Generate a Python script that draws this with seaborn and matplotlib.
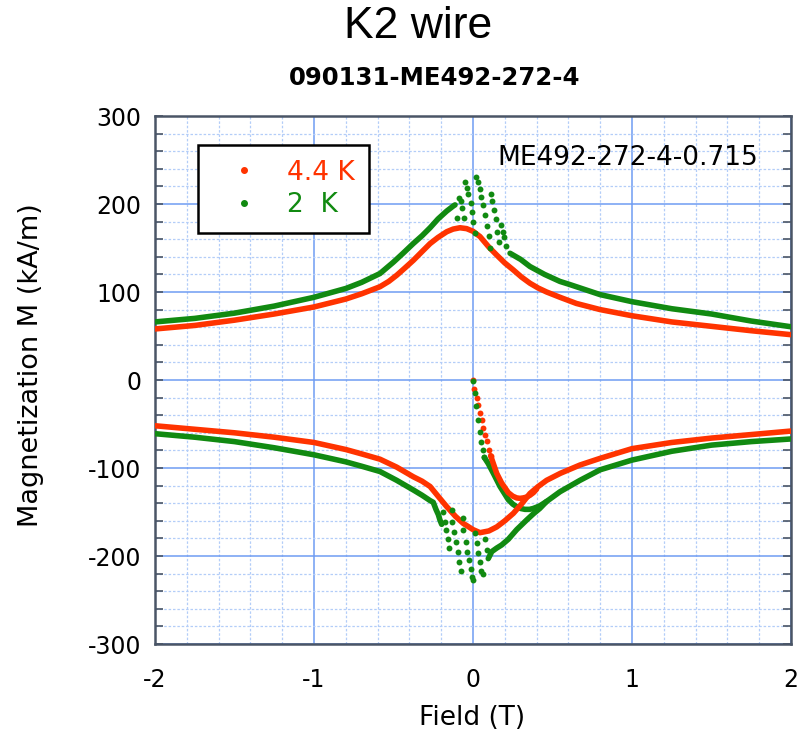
import numpy as np
import pandas as pd
import matplotlib
matplotlib.use("Agg")
import matplotlib.pyplot as plt
from matplotlib.lines import Line2D
from matplotlib.ticker import MultipleLocator
import seaborn as sns

# ---------------- data ----------------
# 4.4 K, upper branch (field sweeping down)
red_up_x = [2.0, 1.75, 1.5, 1.25, 1.0, 0.8, 0.65, 0.547, 0.463, 0.41, 0.358, 0.305, 0.254, 0.2,
            0.149, 0.1, 0.044, 0.0, -0.04, -0.082, -0.125, -0.165, -0.22, -0.27, -0.32, -0.375,
            -0.43, -0.48, -0.53, -0.585, -0.7, -0.8, -1.0, -1.25, -1.5, -1.75, -2.0]
red_up_m = [51.5, 56, 61, 66, 73, 80, 87, 94, 100, 104.5, 110, 117, 125, 133,
            142, 151, 163, 169, 172, 173, 171.5, 168.5, 162, 155, 146, 136,
            127, 119, 112, 106, 98, 92, 83, 75, 68, 62, 58]
# 4.4 K, lower branch (field sweeping up)
red_lo_x = [-2.0, -1.75, -1.5, -1.25, -1.0, -0.8, -0.7, -0.585, -0.48, -0.375, -0.32, -0.27,
            -0.22, -0.165, -0.11, -0.061, 0.0, 0.044, 0.1, 0.149, 0.2, 0.254, 0.305, 0.358,
            0.41, 0.463, 0.55, 0.673, 0.8, 1.0, 1.25, 1.5, 1.75, 2.0]
red_lo_m = [-52, -56, -60, -65, -71, -79, -84, -90, -99, -110, -115, -121,
            -132, -144, -155, -163, -170, -173.5, -171.5, -167, -160, -151.5, -141, -129,
            -121, -114, -106, -96.6, -89, -78, -71, -66, -62, -58]
# 4.4 K, virgin curve
red_vir_dots_x = [0.0, 0.008, 0.023, 0.033, 0.044, 0.057, 0.065, 0.077, 0.086, 0.099, 0.111]
red_vir_dots_m = [0, -10, -20, -28, -38, -46, -54, -62, -69, -80, -86]
red_vir_x = [0.111, 0.128, 0.149, 0.18, 0.222, 0.25, 0.275, 0.296, 0.316, 0.338, 0.358, 0.38, 0.40]
red_vir_m = [-86, -95, -106, -117, -128, -132, -134, -134.5, -134, -133, -131, -128, -124]

# 2 K, upper branch (continuous parts)
grn_up_r_x = [2.0, 1.75, 1.5, 1.25, 1.0, 0.8, 0.7, 0.6, 0.547, 0.45, 0.358, 0.3, 0.233]
grn_up_r_m = [60.5, 67, 75, 81, 89, 97, 103, 109, 112, 120, 129, 137, 144]
grn_up_l_x = [-0.113, -0.124, -0.165, -0.22, -0.27, -0.32, -0.376, -0.44, -0.5, -0.585, -0.7,
              -0.8, -1.0, -1.25, -1.5, -1.75, -2.0]
grn_up_l_m = [199, 197.7, 192, 183, 173, 164, 155, 144, 134, 121, 111,
              104, 94, 84, 76, 70, 66]
# 2 K, upper branch flux-jump points
grn_up_jump_x = [-0.086, -0.077, -0.067, -0.099, -0.057,
                 -0.050, -0.040, -0.030, -0.015, -0.006, 0.002, 0.013,
                 0.019, 0.030, 0.044, 0.050, 0.063, 0.074, 0.086, 0.099, 0.107,
                 0.111, 0.121, 0.132, 0.145, 0.153, 0.165, 0.176, 0.187, 0.195, 0.21]
grn_up_jump_m = [206.4, 203.4, 195.8, 183.7, 184.4,
                 224.6, 218.6, 211, 201.5, 191.3, 179.2, 167.4,
                 231, 225.4, 216.7, 208.3, 198.9, 187.5, 175.4, 163.3, 149.6,
                 211, 203.4, 193.2, 182.6, 168.5, 156.4, 176, 168.5, 162.9, 152]
# 2 K, lower branch (continuous parts)
grn_lo_l_x = [-2.0, -1.75, -1.5, -1.25, -1.0, -0.8, -0.7, -0.585, -0.48, -0.375, -0.32, -0.27,
              -0.25, -0.233, -0.218, -0.208, -0.197]
grn_lo_l_m = [-61, -65, -70, -77, -85, -93, -98, -104, -114, -125, -131, -137,
              -139, -147, -153, -159, -164]
grn_lo_r_x = [0.096, 0.118, 0.149, 0.18, 0.222, 0.275, 0.338, 0.38, 0.42, 0.463, 0.547, 0.673,
              0.8, 1.0, 1.25, 1.5, 1.75, 2.0]
grn_lo_r_m = [-203, -195, -191, -187.5, -181, -170, -159, -152, -146, -138, -127, -114,
              -102, -91, -81, -74, -70, -67]
# 2 K, lower branch flux-jump points
grn_lo_jump_x = [-0.191, -0.176, -0.170, -0.155, -0.149,
                 -0.134, -0.130, -0.118, -0.107, -0.096, -0.086, -0.077,
                 -0.065, -0.061, -0.046, -0.036, -0.025, -0.014, -0.008, 0.002,
                 0.013, 0.023, 0.033, 0.044, 0.053, 0.061,
                 0.075, 0.086]
grn_lo_jump_m = [-149.6, -161, -170.5, -181, -191,
                 -148, -161, -173, -184.5, -196, -207, -217,
                 -157, -171, -184, -196, -205, -215, -223.5, -227,
                 -173.5, -185.6, -197, -207, -216.7, -220,
                 -181, -193]
# 2 K, virgin curve
grn_vir_dots_x = [0.002, 0.013, 0.019, 0.033, 0.044, 0.050, 0.061, 0.071]
grn_vir_dots_m = [-1, -15, -30, -45.5, -59, -71, -80, -88]
grn_vir_x = [0.071, 0.096, 0.128, 0.17, 0.222, 0.25, 0.275, 0.3, 0.327, 0.355, 0.379, 0.42, 0.463]
grn_vir_m = [-88, -95, -106, -121, -136, -141, -144, -146, -147, -147, -146, -143, -138]

series_labels = ["4.4 K", "2  K"]
x_ticks = [-2, -1, 0, 1, 2]
y_ticks = [-300, -200, -100, 0, 100, 200, 300]

RED = "#ff3300"
GREEN = "#118a11"

# ---------------- figure ----------------
sns.set_theme(style="white")
plt.rcParams["font.family"] = ["DejaVu Sans"]
plt.rcParams["axes.unicode_minus"] = False
plt.rcParams["text.color"] = "black"
plt.rcParams["axes.labelcolor"] = "black"
plt.rcParams["xtick.color"] = "black"
plt.rcParams["ytick.color"] = "black"

fig = plt.figure(figsize=(7.99, 7.36), dpi=100)
ax = fig.add_axes([155 / 799, 1 - 644 / 736, 636 / 799, 528 / 736])

LW = 4.0
S = 18


def line(xs, ms, color):
    df = pd.DataFrame({"x": xs, "m": ms})
    sns.lineplot(data=df, x="x", y="m", sort=False, estimator=None, color=color,
                 linewidth=LW, ax=ax, zorder=3, solid_capstyle="round",
                 solid_joinstyle="round")


def dots(xs, ms, color):
    df = pd.DataFrame({"x": xs, "m": ms})
    sns.scatterplot(data=df, x="x", y="m", color=color, s=S, linewidth=0, ax=ax, zorder=4)


line(grn_up_r_x, grn_up_r_m, GREEN)
line(grn_up_l_x, grn_up_l_m, GREEN)
line(grn_lo_l_x, grn_lo_l_m, GREEN)
line(grn_lo_r_x, grn_lo_r_m, GREEN)
line(grn_vir_x, grn_vir_m, GREEN)

line(red_up_x, red_up_m, RED)
line(red_lo_x, red_lo_m, RED)
line(red_vir_x, red_vir_m, RED)
dots(red_vir_dots_x, red_vir_dots_m, RED)

dots(grn_up_jump_x, grn_up_jump_m, GREEN)
dots(grn_lo_jump_x, grn_lo_jump_m, GREEN)
dots(grn_vir_dots_x, grn_vir_dots_m, GREEN)

ax.set_xlim(-2, 2)
ax.set_ylim(-300, 300)
ax.set_xticks(x_ticks)
ax.set_yticks(y_ticks)
ax.set_xticklabels([str(v) for v in x_ticks])
ax.set_yticklabels([str(v) for v in y_ticks])
ax.xaxis.set_minor_locator(MultipleLocator(0.2))
ax.yaxis.set_minor_locator(MultipleLocator(20))

ax.grid(which="major", color="#6f9cf2", linewidth=1.1, linestyle="-", zorder=0)
ax.grid(which="minor", color="#b3cdf8", linewidth=0.9, linestyle=(0, (2, 1.5)), zorder=0)
ax.set_axisbelow(True)

for sp in ax.spines.values():
    sp.set_color("#4a5566")
    sp.set_linewidth(1.8)

ax.tick_params(axis="y", which="both", direction="in", left=True, right=True,
               length=6, width=1.2, color="#4a5566", labelsize=17, pad=10,
               labelcolor="black")
ax.tick_params(axis="x", which="both", bottom=False, top=False, labelsize=17, pad=11,
               labelcolor="black")

ax.set_xlabel("Field (T)", fontsize=19, color="black")
ax.set_ylabel("Magnetization M (kA/m)", fontsize=19.5, color="black")
ax.xaxis.set_label_coords((472 - 155) / 636, (644 - 705) / 528)
ax.yaxis.set_label_coords((44 - 155) / 636, (644 - 365) / 528)

ax.text(0.151, 252, "ME492-272-4-0.715", fontsize=19, color="black",
        ha="left", va="center", zorder=6)

handles = [Line2D([0], [0], marker="o", linestyle="none", color=RED, markersize=4),
           Line2D([0], [0], marker="o", linestyle="none", color=GREEN, markersize=4)]
leg = ax.legend(handles, series_labels, loc="upper left", bbox_to_anchor=(0.068, 0.945),
                borderaxespad=0, fontsize=19, frameon=True, fancybox=False,
                handletextpad=0.45, handlelength=2.35, labelspacing=0.25,
                borderpad=0.55, framealpha=1)
leg.get_frame().set_edgecolor("black")
leg.get_frame().set_linewidth(1.8)
for t, c in zip(leg.get_texts(), [RED, GREEN]):
    t.set_color(c)
leg.set_zorder(7)

fig.text(418 / 799, 1 - 27 / 736, "K2 wire", fontsize=32, color="black",
         family=["Liberation Sans"], ha="center", va="center")
fig.text(435 / 799, 1 - 78 / 736, "090131-ME492-272-4", fontsize=17.6, color="black",
         fontweight="bold", ha="center", va="center")

fig.savefig("out.png", dpi=100, facecolor="white")
